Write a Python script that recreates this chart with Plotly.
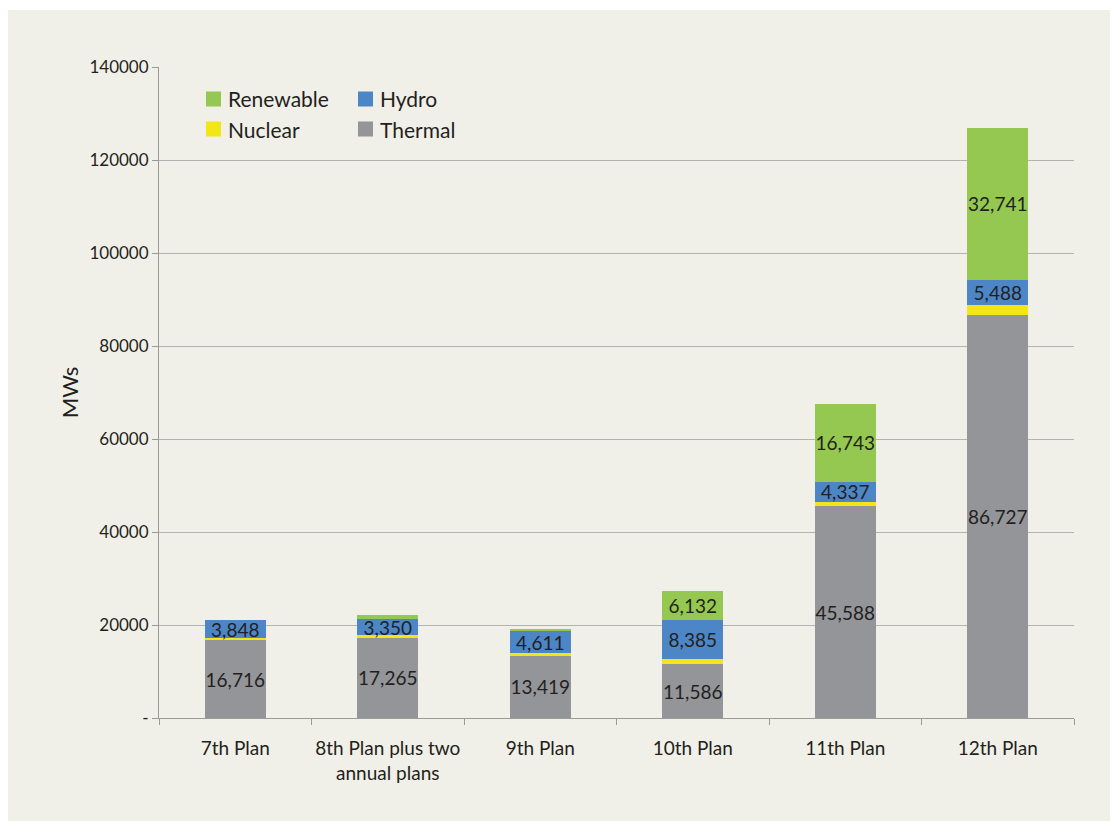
import plotly.graph_objects as go

plans = ["7th Plan", "8th Plan plus two<br>annual plans", "9th Plan", "10th Plan", "11th Plan", "12th Plan"]
thermal = [16716, 17265, 13419, 11586, 45588, 86727]
nuclear = [500, 600, 580, 1180, 880, 2000]
hydro = [3848, 3350, 4611, 8385, 4337, 5488]
renewable = [0, 950, 580, 6132, 16743, 32741]

# labels shown inside segments
thermal_lbl = ["16,716", "17,265", "13,419", "11,586", "45,588", "86,727"]
hydro_lbl = ["3,848", "3,350", "4,611", "8,385", "4,337", "5,488"]
renew_lbl = ["", "", "", "6,132", "16,743", "32,741"]

FONT = "Lato, 'Open Sans', sans-serif"
BG = "#F1F0E8"
LBL = dict(family=FONT, size=19, color="#231F20")

fig = go.Figure()
common = dict(textposition="inside", insidetextanchor="middle", textangle=0,
              textfont=LBL, marker_line_width=0, constraintext="none")
fig.add_bar(name="Thermal", x=plans, y=thermal, marker_color="#939598",
            text=thermal_lbl, **common)
fig.add_bar(name="Nuclear", x=plans, y=nuclear, marker_color="#F2E617",
            marker_line_width=0)
fig.add_bar(name="Hydro", x=plans, y=hydro, marker_color="#4C86C6",
            text=hydro_lbl, **common)
fig.add_bar(name="Renewable", x=plans, y=renewable, marker_color="#95C850",
            text=renew_lbl, **common)

# legend entries drawn manually in a 2x2 grid
legend_items = [("Renewable", "#95C850", 0), ("Hydro", "#4C86C6", 1),
                ("Nuclear", "#F2E617", 2), ("Thermal", "#939598", 3)]
shapes = [dict(type="rect", xref="paper", yref="paper",
               x0=(8 - 159) / 915, x1=(1110 - 159) / 915,
               y0=(718 - 821) / 651, y1=(718 - 10) / 651,
               fillcolor=BG, line_width=0, layer="below")]
annotations = []
for name, col, i in legend_items:
    px = 206 if i % 2 == 0 else 358
    py = 99 if i < 2 else 129
    x0 = (px - 159) / 915
    x1 = (px + 15 - 159) / 915
    yc = (718 - py) / 651
    shapes.append(dict(type="rect", xref="paper", yref="paper", x0=x0, x1=x1,
                       y0=yc - 7.5 / 651, y1=yc + 7.5 / 651, fillcolor=col, line_width=0))
    annotations.append(dict(xref="paper", yref="paper", x=(px + 20 - 159) / 915, y=yc,
                            text=name, showarrow=False, xanchor="left", yanchor="middle",
                            font=dict(family=FONT, size=21, color="#231F20")))

fig.update_layout(
    barmode="stack",
    bargap=0.6,
    width=1110, height=821,
    margin=dict(l=159, r=36, t=67, b=103, autoexpand=False),
    paper_bgcolor="white",
    plot_bgcolor=BG,
    showlegend=False,
    shapes=shapes,
    annotations=annotations,
    font=dict(family=FONT, color="#231F20"),
)
fig.update_xaxes(
    showline=True, linecolor="#9A9A9A", linewidth=1,
    ticks="outside", tickson="boundaries", ticklen=6, tickcolor="#9A9A9A",
    tickfont=dict(family=FONT, size=19, color="#231F20"),
    tickangle=0,
    ticklabelstandoff=13,
    showgrid=False,
)
fig.update_yaxes(
    range=[0, 140000],
    tickvals=[0, 20000, 40000, 60000, 80000, 100000, 120000, 140000],
    ticktext=["-", "20000", "40000", "60000", "80000", "100000", "120000", "140000"],
    showline=True, linecolor="#9A9A9A", linewidth=1,
    ticks="outside", ticklen=6, tickcolor="#9A9A9A",
    tickfont=dict(family=FONT, size=17, color="#231F20"),
    showgrid=True, gridcolor="#B3B3B3", gridwidth=1,
    zeroline=False,
    title=dict(text="MWs", font=dict(family=FONT, size=22, color="#231F20"), standoff=4),
)

fig.write_html("out.html")
